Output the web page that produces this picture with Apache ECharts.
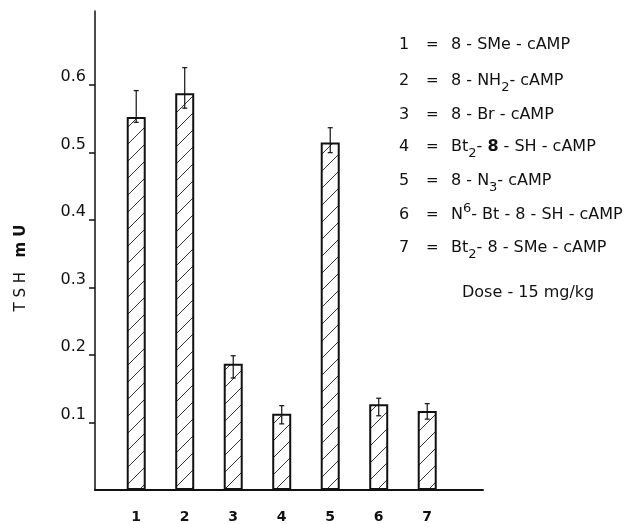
<!DOCTYPE html>
<html>
<head>
<meta charset="utf-8">
<script src="https://cdn.jsdelivr.net/npm/echarts@6/dist/echarts.min.js"></script>
<style>
html, body { margin: 0; background: #fff; }
#chart { width: 635px; height: 524px; }
</style>
</head>
<body>
<div id="chart"></div>
<script>
// compound number on x, TSH (mU) on y
const positions = [1, 2, 3, 4, 5, 6, 7];
const tshMean = [0.553, 0.588, 0.187, 0.113, 0.515, 0.127, 0.117];
const errHigh = [0.592, 0.626, 0.199, 0.125, 0.537, 0.136, 0.128];
const errLow = [0.545, 0.566, 0.166, 0.098, 0.500, 0.110, 0.105];
const yTicks = [0.1, 0.2, 0.3, 0.4, 0.5, 0.6];

const legendNums = ['1', '2', '3', '4', '5', '6', '7'];
const legendNames = [
  '8 - SMe - cAMP',
  '8 - NH{sub|2}- cAMP',
  '8 - Br - cAMP',
  'Bt{sub|2}- {b|8} - SH - cAMP',
  '8 - N{sub|3}- cAMP',
  'N{sup|6}- Bt - 8 - SH - cAMP',
  'Bt{sub|2}- 8 - SMe - cAMP'
];
const doseText = 'Dose - 15 mg/kg';

const FONT = '"DejaVu Sans", sans-serif';
const INK = '#111';

const chart = echarts.init(document.getElementById('chart'));

// diagonal hatching for the bars
const tile = document.createElement('canvas');
tile.width = 17;
tile.height = 17;
const ctx = tile.getContext('2d');
ctx.strokeStyle = '#333';
ctx.lineWidth = 1;
ctx.beginPath();
ctx.moveTo(0, 17);
ctx.lineTo(17, 0);
ctx.stroke();

const rowY = [45, 81, 115, 147, 181, 215, 248];
const richStyles = {
  sub: { fontSize: 13, fontFamily: FONT, fill: INK, verticalAlign: 'bottom', lineHeight: 13 },
  sup: { fontSize: 13, fontFamily: FONT, fill: INK, verticalAlign: 'top', lineHeight: 13 },
  b: { fontSize: 16, fontFamily: FONT, fontWeight: 'bold', fill: INK, lineHeight: 26 }
};

const graphics = [];
legendNums.forEach((n, i) => {
  graphics.push({
    type: 'text', x: 399, y: rowY[i],
    style: { text: n, font: '16px ' + FONT, fill: INK, verticalAlign: 'middle' }
  });
  graphics.push({
    type: 'text', x: 426, y: rowY[i],
    style: { text: '=', font: '15px ' + FONT, fill: INK, verticalAlign: 'middle' }
  });
  graphics.push({
    type: 'text', x: 451, y: rowY[i],
    style: {
      text: legendNames[i], font: '16px ' + FONT, fill: INK,
      verticalAlign: 'middle', lineHeight: 26, rich: richStyles
    }
  });
});
graphics.push({
  type: 'text', x: 462, y: 293,
  style: { text: doseText, font: '16px ' + FONT, fill: INK, verticalAlign: 'middle' }
});
graphics.push({
  type: 'text', x: 21, y: 268, rotation: Math.PI / 2,
  style: {
    text: 'T S H   {b|m U}', font: '15px ' + FONT, fill: INK,
    align: 'center', verticalAlign: 'middle',
    rich: { b: { fontSize: 15, fontFamily: FONT, fontWeight: 'bold', fill: INK } }
  }
});

const option = {
  animation: false,
  grid: { left: 95, right: 152, top: 11, bottom: 34 },
  xAxis: {
    type: 'value',
    min: 0.15,
    max: 8.15,
    splitLine: { show: false },
    axisLine: { lineStyle: { color: INK, width: 2 } },
    axisTick: { show: false },
    axisLabel: {
      customValues: positions,
      color: INK,
      fontFamily: FONT,
      fontSize: 14,
      fontWeight: 'bold',
      margin: 20
    }
  },
  yAxis: {
    type: 'value',
    min: 0,
    max: 0.71,
    splitLine: { show: false },
    axisLine: { show: true, lineStyle: { color: INK, width: 1.5 } },
    axisTick: { show: true, customValues: yTicks, length: 6, lineStyle: { color: INK, width: 1.5 } },
    axisLabel: {
      customValues: yTicks,
      formatter: v => v.toFixed(1),
      color: INK,
      fontFamily: FONT,
      fontSize: 16,
      verticalAlign: 'bottom',
      margin: 9
    }
  },
  graphic: graphics,
  series: [
    {
      type: 'bar',
      data: positions.map((x, i) => [x, tshMean[i]]),
      barWidth: 19,
      itemStyle: {
        color: { image: tile, repeat: 'repeat' },
        borderColor: INK,
        borderWidth: 2
      }
    },
    {
      type: 'custom',
      data: positions.map((x, i) => [x, errLow[i], errHigh[i]]),
      encode: { x: 0, y: [1, 2] },
      z: 3,
      renderItem: (params, api) => {
        const top = api.coord([api.value(0), api.value(2)]);
        const bot = api.coord([api.value(0), api.value(1)]);
        const c = 2.5;
        const style = { stroke: INK, lineWidth: 1.2 };
        return {
          type: 'group',
          children: [
            { type: 'line', shape: { x1: top[0], y1: top[1], x2: bot[0], y2: bot[1] }, style },
            { type: 'line', shape: { x1: top[0] - c, y1: top[1], x2: top[0] + c, y2: top[1] }, style },
            { type: 'line', shape: { x1: bot[0] - c, y1: bot[1], x2: bot[0] + c, y2: bot[1] }, style }
          ]
        };
      }
    }
  ]
};

chart.setOption(option);
</script>
</body>
</html>
